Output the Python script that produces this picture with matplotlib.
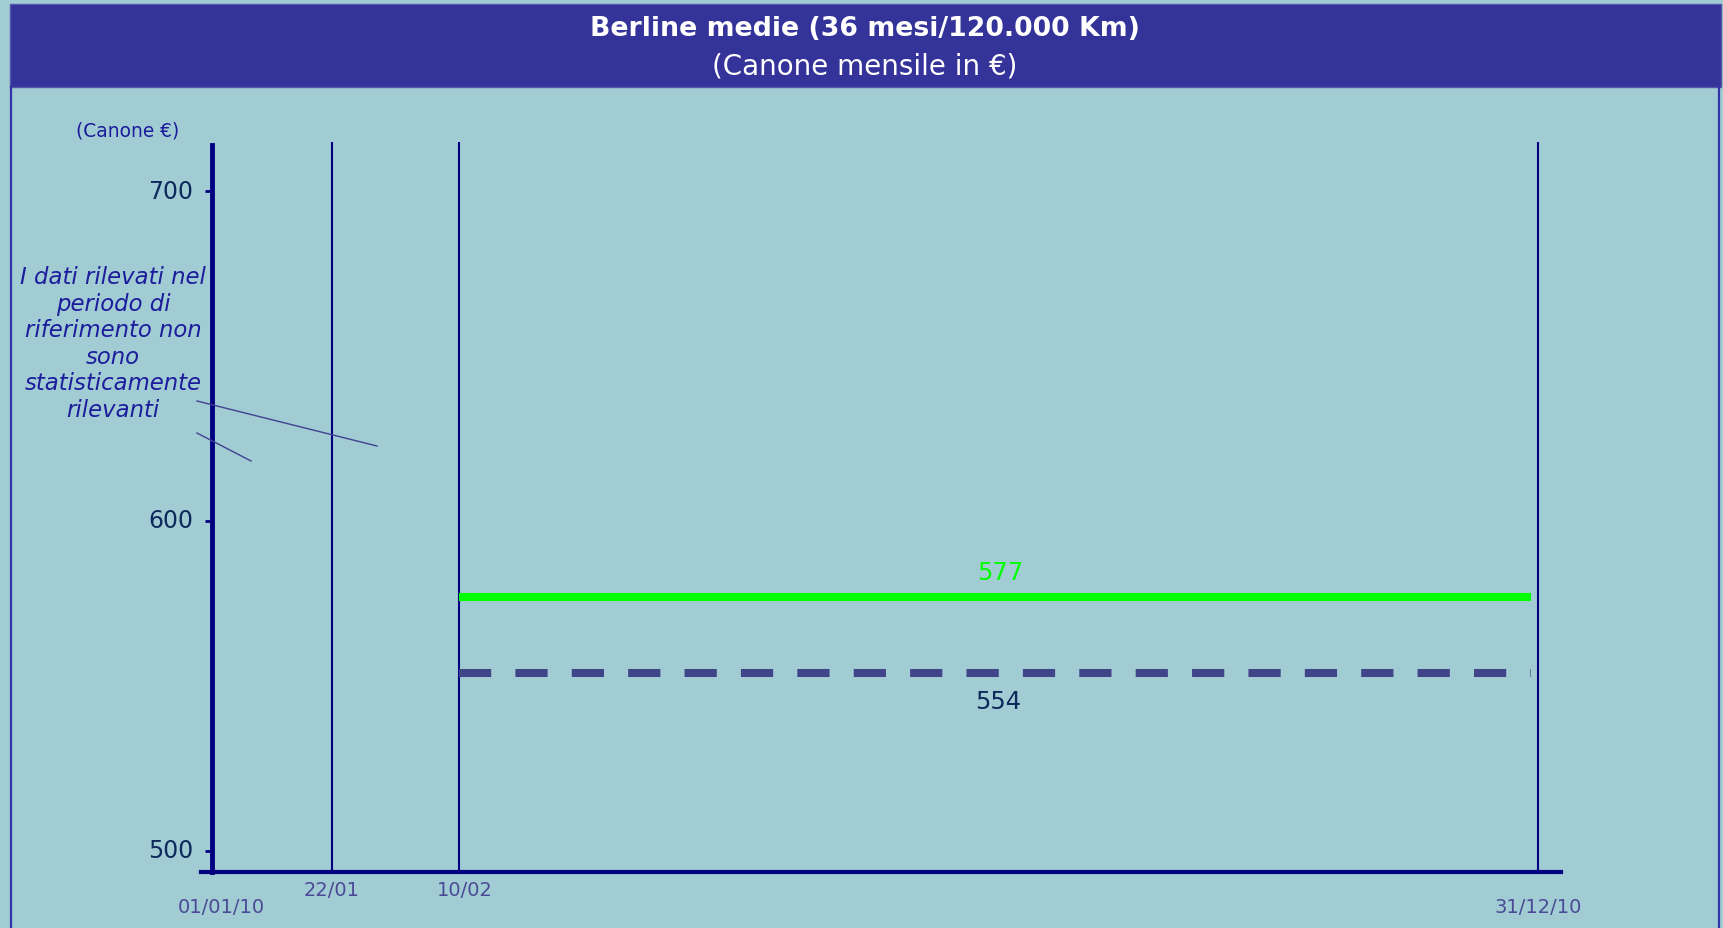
#!/usr/bin/env python3
import numpy as np
import pandas as pd
import matplotlib
matplotlib.use("Agg")
import matplotlib.pyplot as plt
from matplotlib.patches import Rectangle
from matplotlib.lines import Line2D
from matplotlib.transforms import ScaledTranslation


TITLE = "Berline medie (36 mesi/120.000 Km)"
SUBTITLE = "(Canone mensile in €)"
Y_UNIT = "(Canone €)"
NOTE = "I dati rilevati nel\nperiodo di\nriferimento non\nsono\nstatisticamente\nrilevanti"

TICK_DATES = ["2010-01-01", "2010-01-22", "2010-02-10", "2010-12-31"]
TICK_LABELS = ["01/01/10", "22/01", "10/02", "31/12/10"]
VLINE_DATES = ["2010-01-22", "2010-02-10", "2010-12-31"]
Y_TICKS = [500, 600, 700]

PERIOD = ["2010-02-10", "2010-12-29"]
CURRENT = 577     # green line
PREVIOUS = 554    # dashed line

BG = "#a2ccd3"
NAVY = "#000080"
BAR = "#333399"


def doy(dates):
    d = pd.to_datetime(dates)
    return np.asarray((d - pd.Timestamp("2010-01-01")).days, dtype=float)


# the original axis is not linear in time: piecewise scale between tick dates
K_DAYS = np.array([-100, 0, 21, 40, 364, 500], dtype=float)
K_POS = np.array([212 - 100 * 120 / 21, 212, 332, 459, 1538, 1538 + 136 * 1079 / 324])


def fwd(x):
    return np.interp(np.asarray(x, float), K_DAYS, K_POS)


def inv(x):
    return np.interp(np.asarray(x, float), K_POS, K_DAYS)


def main():
    W, H = 1724, 929
    fig = plt.figure(figsize=(W / 100, H / 100), dpi=100, facecolor=BG)

    # title banner
    fig.add_artist(Rectangle((10 / W, 1 - 88 / H), 1711 / W, 83 / H,
                             transform=fig.transFigure, facecolor=BAR,
                             edgecolor="#5555aa", lw=1))
    fig.add_artist(Line2D([11 / W, 11 / W], [0, 1 - 88 / H], transform=fig.transFigure,
                          color="#3333aa", lw=1.6))
    fig.add_artist(Line2D([1719 / W, 1719 / W], [0, 1 - 88 / H], transform=fig.transFigure,
                          color="#3333aa", lw=1.6))
    fig.text(865 / W, 1 - 29 / H, TITLE, color="white", fontsize=19.3, weight="bold",
             ha="center", va="center")
    fig.text(865 / W, 1 - 67 / H, SUBTITLE, color="white", fontsize=20,
             ha="center", va="center")

    ax = fig.add_axes([201 / W, 56 / H, 1360 / W, 730 / H])
    ax.set_facecolor("none")
    ax.set_xscale("function", functions=(fwd, inv))

    ymin = 600 - (873 - 522) / 3.3
    ymax = 600 + (522 - 143) / 3.3
    ax.set_xlim(-1.93, 370.9)
    ax.set_ylim(ymin, ymax)

    for d in doy(VLINE_DATES):
        ax.axvline(d, color=NAVY, lw=1.5, zorder=2)

    x0, x1 = doy(PERIOD)
    ax.plot([x0, x1], [CURRENT, CURRENT], color="#00ff00", lw=5.8,
            solid_capstyle="butt", zorder=3)
    ax.plot([x0, x1], [PREVIOUS, PREVIOUS], color="#404488", lw=5.8,
            linestyle=(0, (4.0, 3.0)), dash_capstyle="butt", zorder=3)

    xm = (x0 + x1) / 2
    ax.annotate(str(CURRENT), (xm, CURRENT), xytext=(4, 18), textcoords="offset points",
                ha="center", va="center", color="#00ff00", fontsize=17.5)
    ax.annotate(str(PREVIOUS), (xm, PREVIOUS), xytext=(2, -20), textcoords="offset points",
                ha="center", va="center", color="#0e2a5c", fontsize=17.5)

    for s in ["top", "right"]:
        ax.spines[s].set_visible(False)
    ax.spines["left"].set_position(("data", 0))
    ax.spines["left"].set_color(NAVY)
    ax.spines["left"].set_linewidth(3.5)
    ax.spines["left"].set_bounds(ymin, 600 + (522 - 146) / 3.3)
    ax.spines["bottom"].set_color(NAVY)
    ax.spines["bottom"].set_linewidth(3)
    ax.spines["bottom"].set_zorder(4)

    ax.set_yticks(Y_TICKS)
    ax.tick_params(axis="y", colors=NAVY, length=5, width=2, pad=8.5,
                   labelcolor="#0e2a5c", labelsize=17)
    for lab in ax.get_yticklabels():
        lab.set_transform(lab.get_transform() + ScaledTranslation(0, 3 / 100, fig.dpi_scale_trans))
    ax.set_xticks(doy(TICK_DATES))
    ax.set_xticklabels(TICK_LABELS)
    ax.tick_params(axis="x", length=0, pad=5.5, labelcolor="#4a4a96", labelsize=14)
    shifts = {"01/01/10": 9, "10/02": 6}
    for t, lab in zip(ax.xaxis.get_major_ticks(), TICK_LABELS):
        if len(lab) > 5:
            t.set_pad(18)
        if lab in shifts:
            t.label1.set_transform(t.label1.get_transform()
                                   + ScaledTranslation(shifts[lab] / 100, 0, fig.dpi_scale_trans))

    fig.text(128 / W, 1 - 131 / H, Y_UNIT, color="#1a1a9a", fontsize=13.4,
             ha="center", va="center")
    fig.text(113 / W, 1 - 344 / H, NOTE, color="#1c1c9c", fontsize=16.4, style="italic",
             ha="center", va="center", multialignment="center", linespacing=1.19)

    for (xa, ya), (xb, yb) in [((197, 402), (377, 447)), ((197, 434), (251, 462))]:
        fig.add_artist(Line2D([xa / W, xb / W], [1 - ya / H, 1 - yb / H],
                              transform=fig.transFigure, color="#404090", lw=1))

    fig.savefig("out.png", dpi=100, facecolor=BG)


if __name__ == '__main__':
    main()
